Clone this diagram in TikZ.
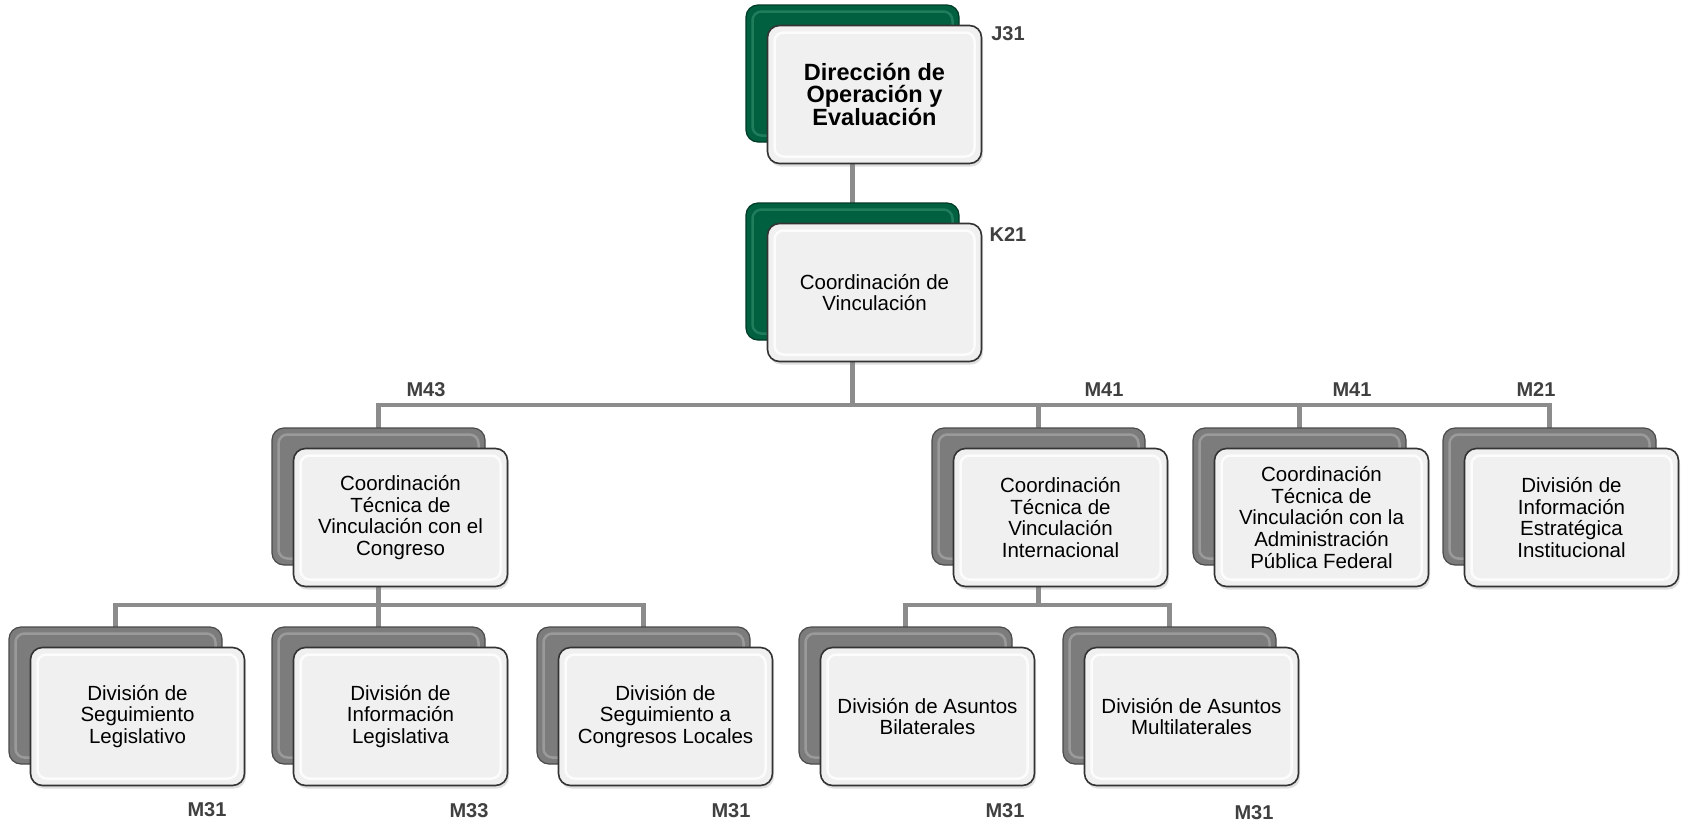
\documentclass[tikz,border=0pt]{standalone}
\usepackage{fontspec}
\setmainfont{Liberation Sans}
\usetikzlibrary{shadows,backgrounds}
\definecolor{dkgreen}{HTML}{00603F}
\definecolor{dkgreenedge}{HTML}{2E8A68}
\definecolor{backgray}{HTML}{7C7C7C}
\definecolor{backgrayedge}{HTML}{A8A8A8}
\definecolor{frontfill}{HTML}{F0F0F0}
\definecolor{frontedge}{HTML}{333333}
\definecolor{conncol}{HTML}{8C8C8C}
\definecolor{labcol}{HTML}{404040}
\tikzset{
  backbox/.style={rectangle, rounded corners=12pt, minimum width=213pt, minimum height=137pt, inner sep=0pt, draw=#1!60!black, line width=1.2pt},
  frontbox/.style={rectangle, rounded corners=12pt, minimum width=214pt, minimum height=138pt, inner sep=0pt, fill=frontfill, draw=frontedge, line width=1.6pt, align=center, font=\fontsize{20.5}{21.8}\selectfont, drop shadow={opacity=0.25, shadow xshift=1.5pt, shadow yshift=-3pt}},
  bevel/.style={rectangle, rounded corners=9pt, minimum width=200pt, minimum height=124pt, inner sep=0pt, draw=#1, line width=2.5pt},
  conn/.style={draw=conncol, line width=4.5pt},
  lab/.style={font=\bfseries\fontsize{20}{22}\selectfont, text=labcol, inner sep=0pt}
}
\newcommand\orgbox[5]{%
  \node[backbox=#4, fill=#4] (#1b) at (#2+106.5,#3+68.5) {};
  \node[bevel=#4edge, opacity=0.7] at (#2+106.5,#3+68.5) {};
  \node[frontbox] (#1) at (#2+128.5,#3+89.5) {#5};
  \node[bevel=white, opacity=0.8] at (#2+128.5,#3+89.5) {};
}
\newcommand\topfont{\bfseries\fontsize{23.5}{23.5}\selectfont}
\begin{document}
\begin{tikzpicture}[x=1pt,y=-1pt]
\useasboundingbox (0,0) rectangle (1695,828);
\coordinate (bus1) at (0,405);
\coordinate (bus2) at (0,605);

\orgbox{J}{746}{5}{dkgreen}{\topfont Dirección de\\\topfont Operación y\\\topfont Evaluación}
\orgbox{K}{746}{203}{dkgreen}{Coordinación de\\Vinculación}

\orgbox{A}{272}{428}{backgray}{Coordinación\\Técnica de\\Vinculación con el\\Congreso}
\orgbox{B}{932}{428}{backgray}{Coordinación\\Técnica de\\Vinculación\\Internacional}
\orgbox{C}{1193}{428}{backgray}{Coordinación\\Técnica de\\Vinculación con la\\Administración\\Pública Federal}
\orgbox{D}{1443}{428}{backgray}{División de\\Información\\Estratégica\\Institucional}

\orgbox{A1}{9}{627}{backgray}{División de\\Seguimiento\\Legislativo}
\orgbox{A2}{272}{627}{backgray}{División de\\Información\\Legislativa}
\orgbox{A3}{537}{627}{backgray}{División de\\Seguimiento a\\Congresos Locales}
\orgbox{B1}{799}{627}{backgray}{División de Asuntos\\Bilaterales}
\orgbox{B2}{1063}{627}{backgray}{División de Asuntos\\Multilaterales}

\begin{pgfonlayer}{background}
\fill[white] (0,0) rectangle (1695,828);
\draw[conn] (Jb.center) -- (Kb.center);
\draw[conn] (Kb.center) -- (Kb.center |- bus1) -| (Ab.center);
\draw[conn] (Kb.center |- bus1) -| (Bb.center);
\draw[conn] (Kb.center |- bus1) -| (Cb.center);
\draw[conn] (Kb.center |- bus1) -| (Db.center);
\draw[conn] (Ab.center) -- (Ab.center |- bus2) -| (A1b.center);
\draw[conn] (Ab.center |- bus2) -- (A2b.center);
\draw[conn] (Ab.center |- bus2) -| (A3b.center);
\draw[conn] (Bb.center) -- (Bb.center |- bus2) -| (B1b.center);
\draw[conn] (Bb.center |- bus2) -| (B2b.center);
\end{pgfonlayer}

\node[lab] (lJ) at (1008,34) {J31};
\node[lab] (lK) at (1008,235) {K21};
\node[lab] (lA) at (426,390) {M43};
\node[lab] (lB) at (1104,390) {M41};
\node[lab] (lC) at (1352,390) {M41};
\node[lab] (lD) at (1536,390) {M21};
\node[lab] (lA1) at (207,810) {M31};
\node[lab] (lA2) at (469,811) {M33};
\node[lab] (lA3) at (731,811) {M31};
\node[lab] (lB1) at (1005,811) {M31};
\node[lab] (lB2) at (1254,813) {M31};
\end{tikzpicture}
\end{document}
